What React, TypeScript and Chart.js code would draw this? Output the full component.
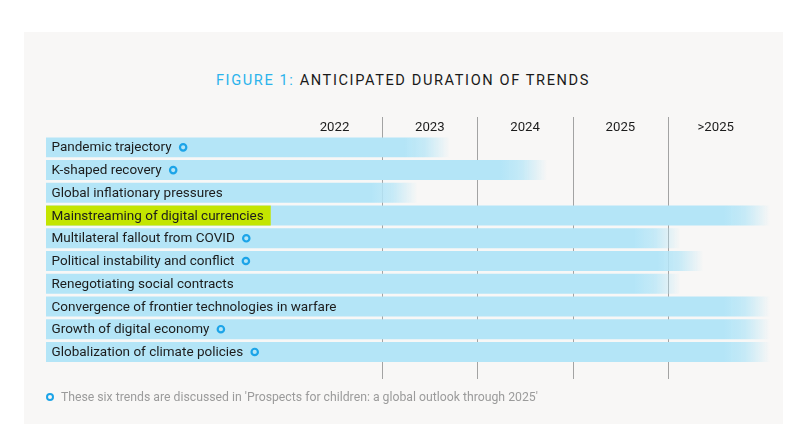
import React, { useEffect, useRef } from "react";
import { Chart, registerables } from "chart.js";

Chart.register(...registerables);

const trends = [
  "Pandemic trajectory",
  "K-shaped recovery",
  "Global inflationary pressures",
  "Mainstreaming of digital currencies",
  "Multilateral fallout from COVID",
  "Political instability and conflict",
  "Renegotiating social contracts",
  "Convergence of frontier technologies in warfare",
  "Growth of digital economy",
  "Globalization of climate policies",
];
// where each bar fades out, on a scale where the 2022 column ends at 2023
const trendEnds = [2023.71, 2024.73, 2023.37, 2027.07, 2026.13, 2026.37, 2026.13, 2027.07, 2027.07, 2027.07];
const markedTrends = [true, true, false, false, true, true, false, false, true, true];
const highlightedTrends = [false, false, false, true, false, false, false, false, false, false];
const yearTicks = [2022.5, 2023.5, 2024.5, 2025.5, 2026.5];
const yearLabels = ["2022", "2023", "2024", "2025", ">2025"];
const gridYears = [2023, 2024, 2025, 2026];

const AXIS_MIN = 2019.472;
const AXIS_MAX = 2027.07;
const FADE = 0.48;

const BAR_COLOR = "rgba(180,229,247,1)";
const BAR_CLEAR = "rgba(180,229,247,0)";
const RING_COLOR = "#1ca4e8";
const FONT = "Roboto, 'Noto Sans', sans-serif";
const LABEL_SIZE = 13.5;

const overlayPlugin = {
  id: "overlay",
  beforeDatasetsDraw(chart: any) {
    const ctx = chart.ctx;
    const x = chart.scales.x;
    ctx.save();
    ctx.strokeStyle = "#a3a3a3";
    ctx.lineWidth = 1;
    gridYears.forEach((g) => {
      const px = Math.round(x.getPixelForValue(g)) + 0.5;
      ctx.beginPath();
      ctx.moveTo(px, 117);
      ctx.lineTo(px, 379);
      ctx.stroke();
    });
    ctx.restore();
  },
  afterDatasetsDraw(chart: any) {
    const ctx = chart.ctx;
    const meta = chart.getDatasetMeta(0);
    const x = chart.scales.x;
    ctx.save();
    ctx.font = `${LABEL_SIZE}px ${FONT}`;
    ctx.textBaseline = "middle";
    meta.data.forEach((bar: any, i: number) => {
      const left = x.getPixelForValue(AXIS_MIN);
      const h = bar.height;
      const text = trends[i];
      const tw = ctx.measureText(text).width;
      if (highlightedTrends[i]) {
        ctx.fillStyle = "#c4e500";
        ctx.fillRect(left, bar.y - h / 2, tw + 12.5, h);
      }
      ctx.fillStyle = "#1c1c1c";
      ctx.fillText(text, left + 5.5, bar.y + 0.7);
      if (markedTrends[i]) {
        ctx.beginPath();
        ctx.strokeStyle = RING_COLOR;
        ctx.lineWidth = 2.2;
        ctx.arc(left + 5.5 + tw + 11.5, bar.y, 3.2, 0, Math.PI * 2);
        ctx.stroke();
      }
    });
    ctx.restore();
  },
};

export default function App() {
  const ref = useRef<HTMLCanvasElement | null>(null);

  useEffect(() => {
    if (!ref.current) return;
    const chart = new Chart(ref.current, {
      type: "bar",
      data: {
        labels: trends,
        datasets: [
          {
            data: trendEnds.map((e) => [AXIS_MIN, e]) as any,
            backgroundColor: (c: any) => {
              const ch = c.chart;
              const xs = ch.scales?.x;
              if (!xs || c.type !== "data") return BAR_COLOR;
              const end = trendEnds[c.dataIndex];
              const a = xs.getPixelForValue(end - FADE);
              const b = xs.getPixelForValue(end);
              if (!Number.isFinite(a) || !Number.isFinite(b) || a === b) return BAR_COLOR;
              const g = ch.ctx.createLinearGradient(a, 0, b, 0);
              g.addColorStop(0, BAR_COLOR);
              g.addColorStop(0.45, "rgba(180,229,247,0.75)");
              g.addColorStop(1, BAR_CLEAR);
              return g;
            },
            borderWidth: 0,
            borderSkipped: false,
            barPercentage: 0.878,
            categoryPercentage: 1,
          },
        ],
      },
      options: {
        indexAxis: "y",
        animation: false,
        responsive: true,
        maintainAspectRatio: false,
        layout: { padding: { left: 46, right: 30, top: 113.7, bottom: 81.7 } },
        plugins: { legend: { display: false }, tooltip: { enabled: false }, title: { display: false } },
        scales: {
          x: {
            type: "linear",
            position: "top",
            min: AXIS_MIN,
            max: AXIS_MAX,
            afterBuildTicks: (s: any) => {
              s.ticks = yearTicks.map((v) => ({ value: v }));
            },
            afterFit: (s: any) => {
              s.height = 22.3;
            },
            ticks: {
              autoSkip: false,
              maxRotation: 0,
              padding: 0,
              color: "#1c1c1c",
              font: { family: FONT, size: 13.2 },
              callback: (v: any) => {
                const i = yearTicks.indexOf(Number(v));
                return i >= 0 ? yearLabels[i] : "";
              },
            },
            grid: { display: false, drawTicks: false },
            border: { display: false },
          },
          y: {
            type: "category",
            display: false,
            offset: true,
            grid: { display: false },
          },
        },
      },
      plugins: [overlayPlugin],
    });
    return () => chart.destroy();
  }, []);

  return (
    <div style={{ position: "fixed", left: 0, top: 0, width: 800, height: 445, background: "#ffffff", overflow: "hidden" }}>
      <div style={{ position: "absolute", left: 24, top: 32, width: 759, height: 392, background: "#f8f7f6" }} />
      <div
        style={{
          position: "absolute",
          left: 3,
          top: 71,
          width: 800,
          textAlign: "center",
          fontFamily: FONT,
          fontSize: 14.6,
          letterSpacing: "1.6px",
          color: "#1a1a1a",
          lineHeight: "18px",
          whiteSpace: "nowrap",
        }}
      >
        <span style={{ color: "#2bb3ec" }}>FIGURE 1: </span>ANTICIPATED DURATION OF TRENDS
      </div>
      <div style={{ position: "absolute", left: 0, top: 0, width: 800, height: 445 }}>
        <canvas ref={ref} />
      </div>
      <div
        style={{
          position: "absolute",
          left: 46,
          top: 389,
          fontFamily: FONT,
          fontSize: 12.25,
          color: "#9b9b9b",
          lineHeight: "16px",
          whiteSpace: "nowrap",
          display: "flex",
          alignItems: "center",
        }}
      >
        <span
          style={{
            display: "inline-block",
            width: 4.4,
            height: 4.4,
            borderRadius: "50%",
            border: `2.2px solid ${RING_COLOR}`,
            marginRight: 6.5,
          }}
        />
        These six trends are discussed in 'Prospects for children: a global outlook through 2025'
      </div>
    </div>
  );
}
